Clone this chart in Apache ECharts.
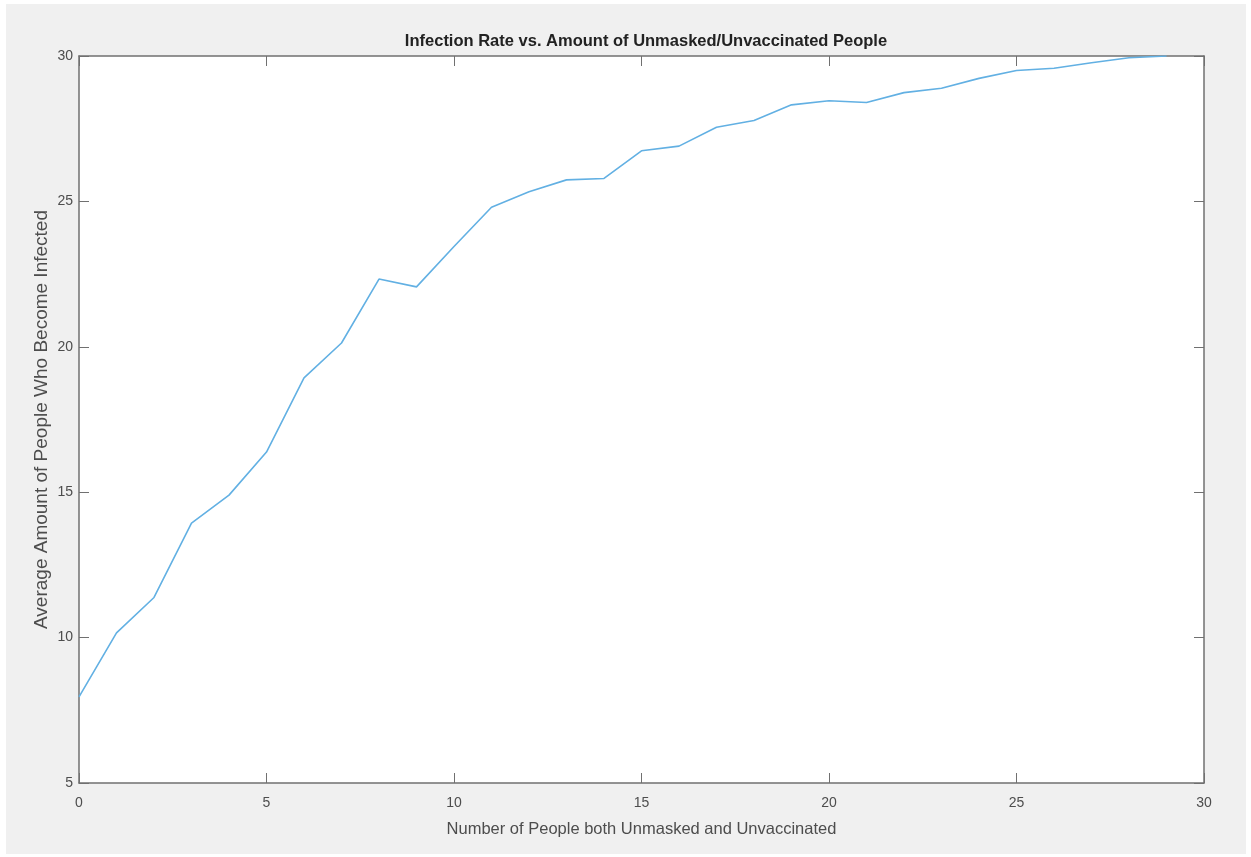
<!DOCTYPE html>
<html>
<head>
<meta charset="utf-8">
<script src="https://cdn.jsdelivr.net/npm/echarts@6/dist/echarts.min.js"></script>
<style>
html,body{margin:0;padding:0;background:#ffffff;}
#frame{position:absolute;left:6px;top:4px;width:1240px;height:850px;background:#f0f0f0;}
#chart{width:1240px;height:850px;}
</style>
</head>
<body>
<div id="frame"><div id="chart"></div></div>
<script>
const titleText = "Infection Rate vs. Amount of Unmasked/Unvaccinated People";
const xName = "Number of People both Unmasked and Unvaccinated";
const yName = "Average Amount of People Who Become Infected";
const unmaskedCount = [0,1,2,3,4,5,6,7,8,9,10,11,12,13,14,15,16,17,18,19,20,21,22,23,24,25,26,27,28,29];
const avgInfected = [7.96,10.16,11.38,13.94,14.9,16.38,18.93,20.13,22.33,22.06,23.45,24.8,25.33,25.74,25.79,26.74,26.9,27.55,27.78,28.32,28.46,28.4,28.74,28.89,29.23,29.5,29.58,29.77,29.94,30.0];
const xTicks = {min:0, max:30, interval:5};
const yTicks = {min:5, max:30, interval:5};

const chart = echarts.init(document.getElementById('chart'), null, {renderer:'canvas'});
const axisCol = '#707070';
const labelCol = '#4d4d4d';
const fontFam = '"Liberation Sans", Arial, Helvetica, sans-serif';
const pairs = unmaskedCount.map((x,i)=>[x, avgInfected[i]]);

chart.setOption({
  animation:false,
  backgroundColor:'transparent',
  title:{
    text:titleText, left:635, textAlign:'center', top:24,
    textStyle:{fontFamily:fontFam, fontSize:16.5, fontWeight:'bold', color:'#222222'}
  },
  grid:{left:73, top:52, width:1125, height:727, show:true, backgroundColor:'#ffffff', borderWidth:0},
  xAxis:[{
    type:'value', min:xTicks.min, max:xTicks.max, interval:xTicks.interval, position:'bottom',
    name:xName, nameLocation:'middle', nameGap:38, nameMoveOverlap:false,
    nameTextStyle:{fontFamily:fontFam, fontSize:16.5, color:labelCol},
    axisLine:{show:true, onZero:false, lineStyle:{color:axisCol, width:1.5}},
    axisTick:{show:true, inside:true, length:10, lineStyle:{color:axisCol}},
    axisLabel:{fontFamily:fontFam, fontSize:14, color:labelCol, margin:13},
    splitLine:{show:false}
  },{
    type:'value', min:xTicks.min, max:xTicks.max, interval:xTicks.interval, position:'top',
    axisLine:{show:true, onZero:false, lineStyle:{color:axisCol, width:1.5}},
    axisTick:{show:true, inside:true, length:10, lineStyle:{color:axisCol}},
    axisLabel:{show:false}, splitLine:{show:false}
  }],
  yAxis:[{
    type:'value', min:yTicks.min, max:yTicks.max, interval:yTicks.interval, position:'left',
    name:yName, nameLocation:'middle', nameGap:28, nameRotate:90, nameMoveOverlap:false,
    nameTextStyle:{fontFamily:fontFam, fontSize:19, color:labelCol},
    axisLine:{show:true, onZero:false, lineStyle:{color:axisCol, width:1.5}},
    axisTick:{show:true, inside:true, length:10, lineStyle:{color:axisCol}},
    axisLabel:{fontFamily:fontFam, fontSize:14, color:labelCol, margin:6},
    splitLine:{show:false}
  },{
    type:'value', min:yTicks.min, max:yTicks.max, interval:yTicks.interval, position:'right',
    axisLine:{show:true, onZero:false, lineStyle:{color:axisCol, width:1.5}},
    axisTick:{show:true, inside:true, length:10, lineStyle:{color:axisCol}},
    axisLabel:{show:false}, splitLine:{show:false}
  }],
  series:[{
    type:'line', xAxisIndex:0, yAxisIndex:0, data:pairs,
    showSymbol:false, symbol:'none',
    lineStyle:{color:'#62b0e3', width:1.6}
  }]
});
</script>
</body>
</html>
